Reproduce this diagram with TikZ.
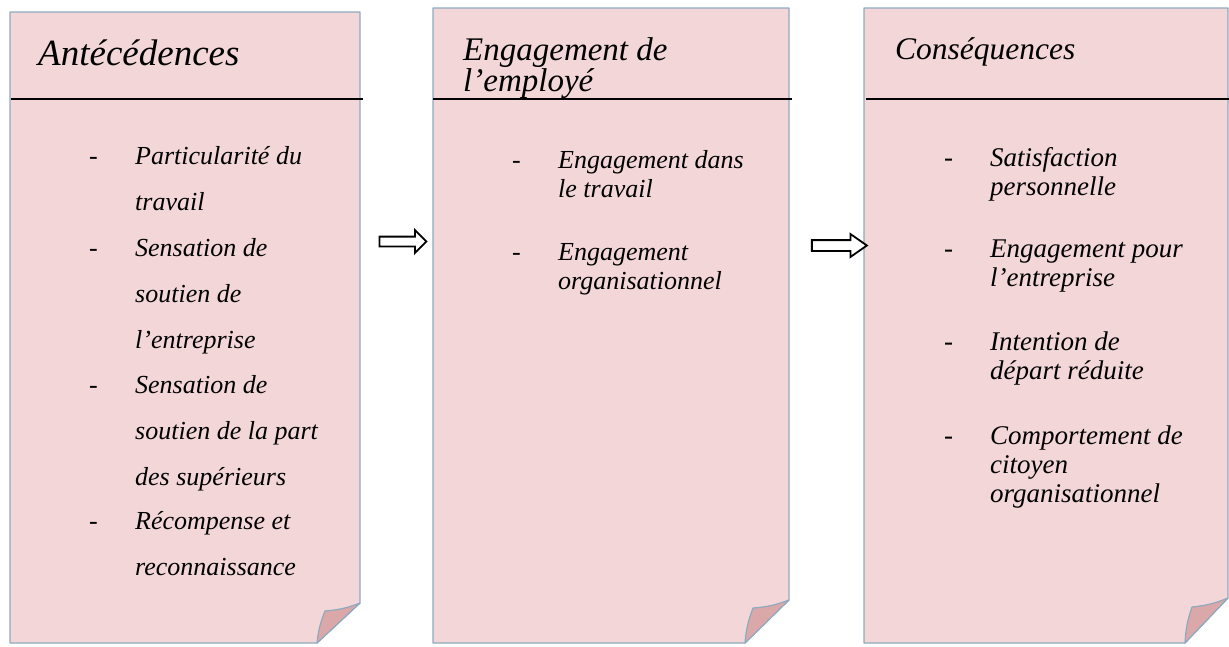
\documentclass[tikz,border=0pt]{standalone}
\usepackage{fontspec}
\setmainfont{Liberation Serif}
\usetikzlibrary{shapes.arrows}
\definecolor{rose}{RGB}{243,215,216}
\definecolor{pli}{RGB}{218,168,168}
\definecolor{bord}{RGB}{143,170,190}
\newcommand\tiret{\makebox[46pt][l]{\upshape -}}
\newcommand\ret{\\\hspace*{46pt}}
\tikzset{%
    fic/.style={fill=rose, draw=bord, line width=1.2pt, line join=round},
    plf/.style={fill=pli, draw=bord, line width=1.2pt, line join=round},
    sep/.style={line width=1.5pt},
    itm/.style={anchor=base west, inner sep=0pt, align=left},
    fle/.style={single arrow, draw, line width=1.8pt, fill=white, single arrow head indent=0pt},
}

\begin{document}
\begin{tikzpicture}[x=1pt,y=-1pt]
    \useasboundingbox (0,0) rectangle (1229,646);
    \draw [fic] (10,12) -- (360,12) -- (360,603) -- (317,643) -- (10,643) -- cycle;
    \draw [plf] (360,603) to[bend left=8] (325,611) to[bend right=8] (317,643) -- cycle;
    \draw [fic] (433,8) -- (789,8) -- (789,600) -- (745,643) -- (433,643) -- cycle;
    \draw [plf] (789,600) to[bend left=8] (753,608) to[bend right=8] (745,643) -- cycle;
    \draw [fic] (864,8) -- (1228,8) -- (1228,598) -- (1185,643) -- (864,643) -- cycle;
    \draw [plf] (1228,598) to[bend left=8] (1192,607) to[bend right=8] (1185,643) -- cycle;
    \draw [sep] (11,99) -- (363,99) (433,99) -- (792,99) (866,99) -- (1229,99);
    \node [itm, font=\itshape\fontsize{37}{40}\selectfont] (tA) at (38,65) {Antécédences};
    \node [itm, font=\itshape\fontsize{33}{28}\selectfont] (tB) at (463,91) {Engagement de\\l’employé};
    \node [itm, font=\itshape\fontsize{31.5}{32}\selectfont] (tC) at (895,59) {Conséquences};
    \begin{scope}[every node/.append style={font=\itshape\fontsize{26}{45.7}\selectfont}]
        \node [itm] (a1) at (89,210) {\tiret Particularité du\ret travail};
        \node [itm] (a2) at (89,348) {\tiret Sensation de\ret soutien de\ret l’entreprise};
        \node [itm] (a3) at (89,485) {\tiret Sensation de\ret soutien de la part\ret des supérieurs};
        \node [itm] (a4) at (89,575) {\tiret Récompense et\ret reconnaissance};
    \end{scope}
    \begin{scope}[every node/.append style={font=\itshape\fontsize{26}{29}\selectfont}]
        \node [itm] (b1) at (512,197) {\tiret Engagement dans\ret le travail};
        \node [itm] (b2) at (512,289) {\tiret Engagement\ret organisationnel};
    \end{scope}
    \begin{scope}[every node/.append style={font=\itshape\fontsize{27}{29}\selectfont}]
        \node [itm] (c1) at (944,195) {\tiret Satisfaction\ret personnelle};
        \node [itm] (c2) at (944,286) {\tiret Engagement pour\ret l’entreprise};
        \node [itm] (c3) at (944,379) {\tiret Intention de\ret départ réduite};
        \node [itm] (c4) at (944,502) {\tiret Comportement de\ret citoyen\ret organisationnel};
    \end{scope}
    \node [fle, inner sep=4pt, single arrow head extend=6.5pt, minimum height=47pt] (fl1) at (400.5,241.5) {};
    \node [fle, inner sep=4.5pt, single arrow head extend=6pt, minimum height=55pt, single arrow tip angle=70] (fl2) at (835.5,245.5) {};
\end{tikzpicture}
\end{document}
